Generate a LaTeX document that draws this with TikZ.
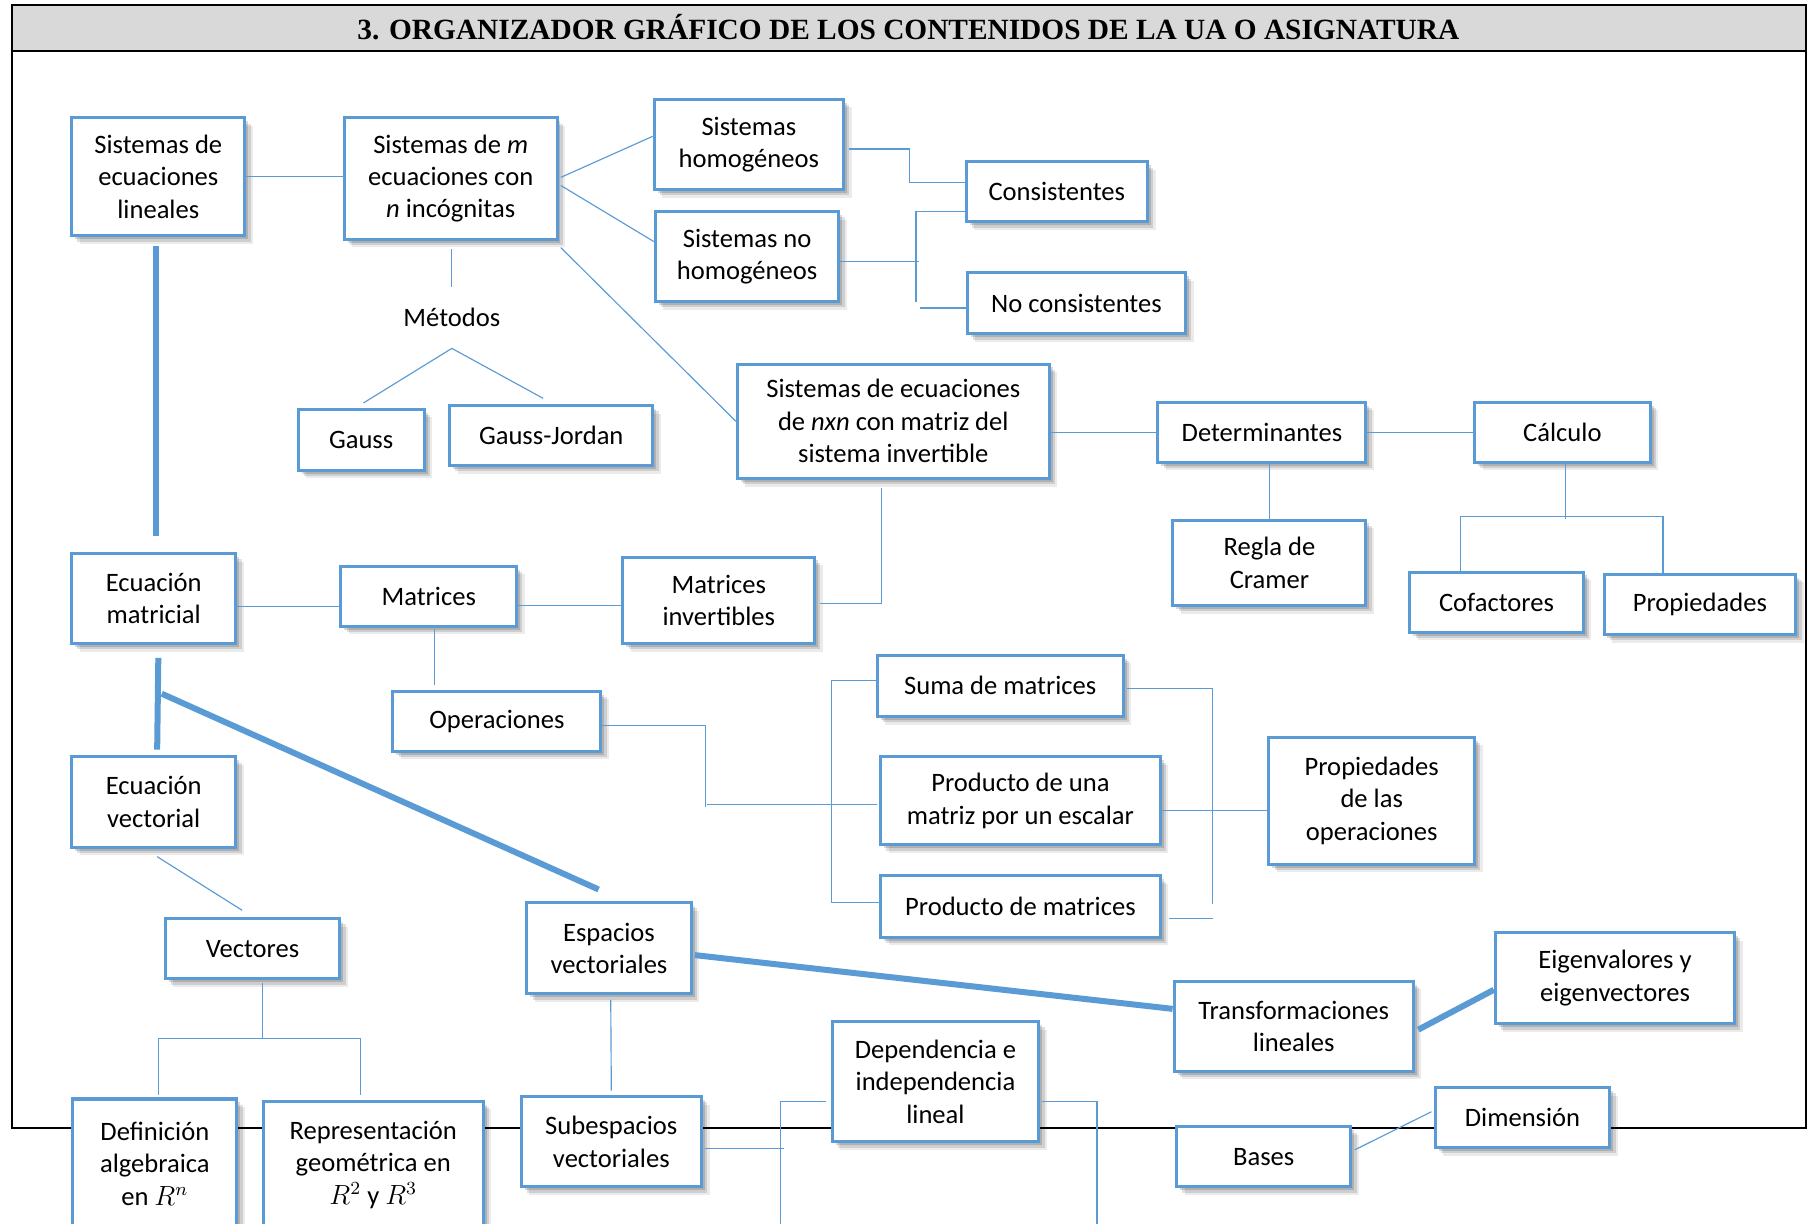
\documentclass[tikz,border=0pt]{standalone}
\usepackage{fontspec}
\setmainfont{Carlito}
\newfontfamily\titulo{Liberation Serif}
\usetikzlibrary{calc,shadows}
\definecolor{azul}{RGB}{91,155,213}
\definecolor{grisclaro}{RGB}{217,217,217}
\tikzset{
    caja/.style 2 args={
        rectangle,
        draw=azul, % borde azul
        fill=white,
        line width=1.3pt, % borde grueso
        minimum width=#1*0.5pt,
        minimum height=#2*0.5pt,
        inner sep=0,
        align=center,
        font=\fontsize{11.5}{14}\selectfont,
        drop shadow={shadow xshift=3.5pt, shadow yshift=-3.5pt, fill=black, opacity=0.08},
        drop shadow={shadow xshift=2.5pt, shadow yshift=-2.5pt, fill=black, opacity=0.12},
        drop shadow={shadow xshift=1.5pt, shadow yshift=-1.5pt, fill=black, opacity=0.15}
    },
    texto/.style={
        inner sep=9pt,
        font=\fontsize{11.5}{14}\selectfont
    },
    fino/.style={draw=azul, line width=0.5pt},
    grueso/.style={draw=azul, line width=2.6pt},
    marco/.style={draw=black, line width=0.9pt}
}
\begin{document}
\begin{tikzpicture}[x=0.5pt, y=-0.5pt]
    \useasboundingbox (0,0) rectangle (1568,1059);
    % encabezado y marco
    \fill[grisclaro] (10,4.3) rectangle (1562.5,44);
    \draw[marco] (10,4.3) rectangle (1562.5,975.9);
    \draw[marco] (10,44) -- (1562.5,44);
    \node[font=\titulo\bfseries\fontsize{12.7}{15}\selectfont] (tit) at (786,23.5)
        {3. ORGANIZADOR GRÁFICO DE LOS CONTENIDOS DE LA UA O ASIGNATURA};

    % sistemas de ecuaciones
    \node[caja={150}{102}] (sel) at (137,153) {Sistemas de\\ecuaciones\\lineales};
    \node[caja={184}{105}] (smn) at (390,154.5) {Sistemas de \textit{m}\\ecuaciones con\\\textit{n} incógnitas};
    \node[caja={164}{78}] (shom) at (648,125) {Sistemas\\homogéneos};
    \node[caja={159}{78}] (snohom) at (646.5,222) {Sistemas no\\homogéneos};
    \node[caja={157}{52}] (cons) at (914.5,166) {Consistentes};
    \node[caja={189}{53}] (nocons) at (931.5,262.5) {No consistentes};
    \node[texto] (met) at (391,275) {Métodos};
    \node[caja={109}{53}] (gauss) at (312.5,380.5) {Gauss};
    \node[caja={176}{52}] (gj) at (477,377) {Gauss-Jordan};
    \node[caja={270}{99}] (nxn) at (773,364.5) {Sistemas de ecuaciones\\de \textit{nxn} con matriz del\\sistema invertible};
    \node[caja={180}{52}] (det) at (1092,374) {Determinantes};
    \node[caja={152}{52}] (calc) at (1352,374) {Cálculo};
    \node[caja={167}{74}] (cramer) at (1098.5,487) {Regla de\\Cramer};
    \node[caja={150}{52}] (cof) at (1295,521) {Cofactores};
    \node[caja={166}{52}] (prop) at (1471,523) {Propiedades};

    % matrices
    \node[caja={142}{78}] (ecmat) at (133,518) {Ecuación\\matricial};
    \node[caja={152}{52}] (mat) at (371,516) {Matrices};
    \node[caja={166}{75}] (matinv) at (622,519.5) {Matrices\\invertibles};
    \node[caja={180}{52}] (oper) at (430,624) {Operaciones};
    \node[caja={213}{53}] (suma) at (865.5,593.5) {Suma de matrices};
    \node[caja={242}{76}] (prodesc) at (883,693) {Producto de una\\matriz por un escalar};
    \node[caja={242}{53}] (prodmat) at (883,784.5) {Producto de matrices};
    \node[caja={178}{110}] (propop) at (1187,693) {Propiedades\\de las\\operaciones};

    % vectores y espacios
    \node[caja={142}{78}] (ecvec) at (133,694) {Ecuación\\vectorial};
    \node[caja={151}{52}] (vect) at (218.5,821) {Vectores};
    \node[caja={142}{79}] (espvec) at (527,820.5) {Espacios\\vectoriales};
    \node[caja={207}{79}] (eigen) at (1397.5,846.5) {Eigenvalores y\\eigenvectores};
    \node[caja={207}{78}] (transf) at (1119.5,888) {Transformaciones\\lineales};
    \node[caja={179}{104}] (depind) at (809.5,936) {Dependencia e\\independencia\\lineal};
    \node[caja={142}{112}] (defalg) at (134,1007) {Definición\\algebraica\\en $R^n$};
    \node[caja={190}{110}] (repgeo) at (323,1008) {Representación\\geométrica en\\$R^2$ y $R^3$};
    \node[caja={156}{78}] (subesp) at (529,988) {Subespacios\\vectoriales};
    \node[caja={151}{52}] (bases) at (1093.5,1001) {Bases};
    \node[caja={151}{52}] (dim) at (1317.5,967) {Dimensión};

    % conexiones finas
    \draw[fino] (sel.east) -- (smn.west |- sel.east);
    \draw[fino] ($(smn.east)+(2,-1)$) -- ($(shom.west)+(0,-7)$);
    \draw[fino] ($(smn.east)+(2,6)$) -- ($(snohom.west)+(0,-13)$);
    \draw[fino] ($(smn.south east)+(2,6)$) -- (nxn.west);
    \draw[fino] ($(smn.south)+(1,7)$) -- (met.north);
    \draw[fino] (met.south) -- ($(gauss.north)+(2,-4)$);
    \draw[fino] (met.south) -- ($(gj.north)+(-7,-5)$);
    \draw[fino] ($(shom.east)+(3,4)$) -- ++(53,0) |- ($(cons.west)+(0,-8)$);
    \draw[fino] ($(snohom.east)+(0,4)$) -- ++(68,0);
    \draw[fino] ($(cons.west)+(0,17)$) -- ++(-42,0) -- ++(0,78);
    \draw[fino] ($(nocons.west)+(0,4)$) -- ++(-40,0);
    \draw[fino] (nxn.east |- det.west) -- (det.west);
    \draw[fino] (det.east) -- (calc.west);
    \draw[fino] (det.south -| cramer.north) -- (cramer.north);
    \draw[fino] ($(calc.south)+(2.5,0)$) -- ++(0,48);
    \draw[fino] ($(cof.north)+(-31,0)$) |- ($(prop.north)+(-32,-49)$) -- ($(prop.north)+(-32,0)$);
    \draw[fino] ($(nxn.south)+(-10,7)$) |- ($(matinv.east)+(3,3)$);
    \draw[fino] ($(ecmat.east)+(0,7)$) -- ($(mat.west)+(0,9)$);
    \draw[fino] ($(mat.east)+(0,8)$) -- ($(matinv.west)+(0,4.5)$);
    \draw[fino] ($(mat.south)+(5,1)$) -- ($(oper.north)+(-54,-4)$);
    \draw[fino] ($(oper.east)+(0,4)$) -- ++(89,0) -- ++(0,70);
    \draw[fino] ($(prodesc.west)+(-2,3)$) -- ++(-147,0);
    \draw[fino] ($(suma.west)+(0,-5)$) -| ($(prodmat.west)+(-41,-3.5)$) -- ($(prodmat.west)+(0,-3.5)$);
    \draw[fino] ($(suma.east)+(2,2)$) -| ($(prodmat.east)+(44,-2)$);
    \draw[fino] ($(prodmat.east)+(6,10)$) -- ++(38,0);
    \draw[fino] ($(prodesc.east)+(0,8)$) -- ($(propop.west)+(0,8)$);
    \draw[fino] ($(ecvec.south)+(3,7)$) -- ($(vect.north)+(-9,-6)$);
    \draw[fino] ($(vect.south)+(9,2)$) -- ++(0,49);
    \draw[fino] ($(defalg.north)+(3,-2)$) |- ($(repgeo.north)+(-11,-53)$) -- ($(repgeo.north)+(-11,-4)$);
    \draw[fino] ($(espvec.south)+(1.5,4)$) -- (subesp.north |- {$(subesp.north)+(0,-4)$});
    \draw[fino] ($(subesp.east)+(2,6)$) -- ++(68,0);
    \draw[fino] ($(depind.west)+(-4,17)$) -| ($(depind.west)+(-43,140)$);
    \draw[fino] ($(depind.east)+(1,17)$) -| ($(depind.east)+(49,140)$);
    \draw[fino] ($(bases.east)+(2,-6)$) -- ($(dim.west)+(-2,-5)$);

    % conexiones gruesas
    \draw[grueso] ($(sel.south)+(-2,8)$) -- ($(ecmat.north)+(2,-14)$);
    \draw[grueso] ($(ecmat.south)+(4,11)$) -- ($(ecvec.north)+(3,-5)$);
    \draw[grueso] ($(ecmat.south)+(7,42)$) -- ($(espvec.north)+(-9,-10)$);
    \draw[grueso] ($(espvec.east)+(2,6)$) -- ($(transf.west)+(0,-15)$);
    \draw[grueso] ($(transf.east)+(3,3)$) -- ($(eigen.west)+(0,10)$);
\end{tikzpicture}
\end{document}
